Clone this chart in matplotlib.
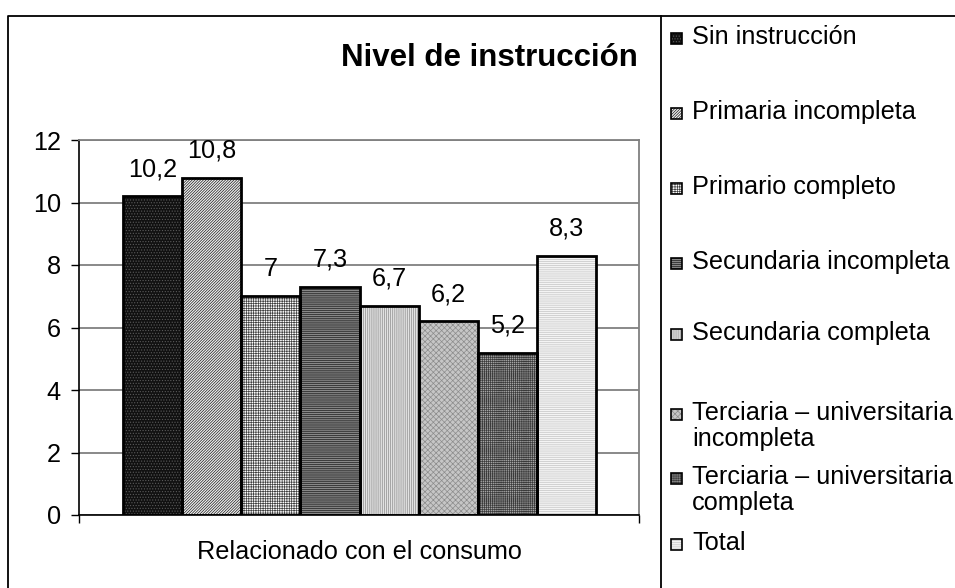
import matplotlib
matplotlib.use("Agg")
import matplotlib.pyplot as plt
from matplotlib.lines import Line2D
from matplotlib.patches import Rectangle

plt.rcParams['font.family'] = ['Liberation Sans', 'DejaVu Sans']

# ---- data ----
categories = ["Sin instrucción", "Primaria incompleta", "Primario completo",
              "Secundaria incompleta", "Secundaria completa",
              "Terciaria – universitaria\nincompleta",
              "Terciaria – universitaria\ncompleta", "Total"]
values = [10.2, 10.8, 7, 7.3, 6.7, 6.2, 5.2, 8.3]
value_labels = ["10,2", "10,8", "7", "7,3", "6,7", "6,2", "5,2", "8,3"]
group_label = "Relacionado con el consumo"
title = "Nivel de instrucción"
yticks = [0, 2, 4, 6, 8, 10, 12]

# ---- styles (face, hatch, hatch colour) ----
styles = [
    ("#111111", "." * 6, "#5a5a5a"),
    ("#f0f0f0", "/" * 12, "#1a1a1a"),
    ("#ffffff", "+" * 7, "#404040"),
    ("#3c3c3c", "-" * 8, "#a8a8a8"),
    ("#e2e2e2", "|" * 8, "#8c8c8c"),
    ("#c6c6c6", "x" * 6, "#8c8c8c"),
    ("#a4a4a4", "+" * 8, "#3a3a3a"),
    ("#f4f4f4", "-" * 8, "#c4c4c4"),
]

FS = 18.2
W, H = 955, 588
plt.rcParams['hatch.linewidth'] = 0.5
fig = plt.figure(figsize=(W / 100, H / 100), dpi=100)

ax = fig.add_axes([79 / W, (H - 515) / H, 560 / W, 375 / H])
x = list(range(len(values)))
for i, v in enumerate(values):
    fc, hatch, hc = styles[i]
    ax.bar(x[i], v, width=1.0, color=fc, hatch=hatch, edgecolor=hc,
           linewidth=0, zorder=2)
    ax.bar(x[i], v, width=1.0, fill=False, edgecolor="black",
           linewidth=2, zorder=3)
    ax.annotate(value_labels[i], (x[i], v), xytext=(0, 14.5),
                textcoords="offset points", ha="center", va="baseline",
                fontsize=FS, zorder=4)

ax.set_xlim(-0.5 - 44 / 59.1, 7.5 + 43 / 59.1)
ax.set_ylim(0, 12)
ax.set_yticks(yticks)
ax.set_yticklabels([str(t) for t in yticks], fontsize=FS)
ax.yaxis.grid(True, color="#808080", linewidth=1.3, zorder=0)
ax.set_axisbelow(True)
ax.set_xticks(ax.get_xlim())
ax.set_xticklabels([])
ax.tick_params(axis="both", direction="out", length=6, width=1, color="black", pad=7)
for s in ["top", "right"]:
    ax.spines[s].set_color("#808080")
    ax.spines[s].set_linewidth(1.3)
for s in ["left", "bottom"]:
    ax.spines[s].set_color("black")
    ax.spines[s].set_linewidth(1.2)

ax.text(0.5, -37 / 375, group_label, transform=ax.transAxes, ha="center",
        va="center", fontsize=FS)

# title
fig.text(638 / W, 1 - 58 / H, title, ha="right", va="center",
         fontsize=22.5, fontweight="bold")

# frame lines
fig.add_artist(Line2D([8 / W, 8 / W, 1.0], [0, 1 - 16 / H, 1 - 16 / H],
                      color="black", linewidth=1.3, transform=fig.transFigure))
fig.add_artist(Line2D([661 / W, 661 / W], [0, 1 - 16 / H],
                      color="black", linewidth=1.3, transform=fig.transFigure))

# legend (manual, Excel-like spacing)
legend_y = [38, 113, 188, 263, 334, 414, 478, 544]
for i, lab in enumerate(categories):
    fc, hatch, hc = styles[i]
    yc = legend_y[i]
    fig.add_artist(Rectangle((671 / W, 1 - (yc + 6) / H), 11 / W, 11 / H,
                             transform=fig.transFigure, facecolor=fc,
                             hatch=hatch, edgecolor=hc, linewidth=0))
    fig.add_artist(Rectangle((671 / W, 1 - (yc + 6) / H), 11 / W, 11 / H,
                             transform=fig.transFigure, fill=False,
                             edgecolor="black", linewidth=1.2))
    fig.text(692 / W, 1 - (yc - 13) / H, lab, ha="left", va="top",
             fontsize=FS, linespacing=1.1)

fig.savefig("out.png", dpi=100)
